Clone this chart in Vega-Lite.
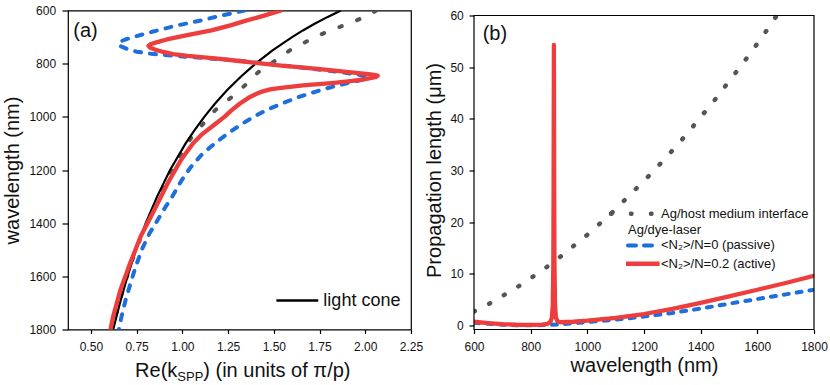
{
  "$schema": "https://vega.github.io/schema/vega-lite/v6.json",
  "padding": {"left": 1, "top": 3.5, "right": 0, "bottom": 0},
  "background": "white",
  "spacing": 0,
  "config": {
    "font": "Liberation Sans",
    "view": {"stroke": "#000", "strokeWidth": 1.2},
    "axis": {"domain": false, "grid": false, "tickColor": "#000", "tickWidth": 1.2, "labelColor": "#111", "labelFontSize": 12, "titleFontSize": 20, "titleFontWeight": "normal", "titleColor": "#111", "labelFlush": false, "labelOverlap": false}
  },
  "datasets": {
    "a_cone": [{"wl":600,"k":1.867},{"wl":625,"k":1.792},{"wl":650,"k":1.723},{"wl":675,"k":1.659},{"wl":700,"k":1.6},{"wl":750,"k":1.493},{"wl":800,"k":1.4},{"wl":850,"k":1.318},{"wl":900,"k":1.244},{"wl":950,"k":1.179},{"wl":1000,"k":1.12},{"wl":1050,"k":1.067},{"wl":1100,"k":1.018},{"wl":1200,"k":0.933},{"wl":1300,"k":0.862},{"wl":1400,"k":0.8},{"wl":1500,"k":0.747},{"wl":1600,"k":0.7},{"wl":1700,"k":0.659},{"wl":1800,"k":0.622}],
    "a_host": [{"wl":600,"k":2.06},{"wl":619,"k":2.015},{"wl":648,"k":1.915},{"wl":673,"k":1.815},{"wl":700,"k":1.724},{"wl":750,"k":1.587},{"wl":794,"k":1.496},{"wl":832,"k":1.415},{"wl":876,"k":1.351},{"wl":926,"k":1.269},{"wl":976,"k":1.178},{"wl":1033,"k":1.105},{"wl":1076,"k":1.051},{"wl":1127,"k":1.005},{"wl":1177,"k":0.96},{"wl":1250,"k":0.905},{"wl":1350,"k":0.84},{"wl":1450,"k":0.775},{"wl":1550,"k":0.72},{"wl":1650,"k":0.675},{"wl":1750,"k":0.635},{"wl":1800,"k":0.62}],
    "a_passive": [{"wl":600,"k":1.34},{"wl":618,"k":1.22},{"wl":636,"k":1.11},{"wl":658,"k":0.96},{"wl":680,"k":0.835},{"wl":700,"k":0.73},{"wl":710,"k":0.685},{"wl":718,"k":0.657},{"wl":726,"k":0.65},{"wl":734,"k":0.662},{"wl":745,"k":0.7},{"wl":755,"k":0.75},{"wl":763,"k":0.83},{"wl":770,"k":0.95},{"wl":778,"k":1.1},{"wl":787,"k":1.28},{"wl":797,"k":1.42},{"wl":807,"k":1.55},{"wl":820,"k":1.72},{"wl":832,"k":1.87},{"wl":842,"k":1.97},{"wl":850,"k":2.005},{"wl":856,"k":2.012},{"wl":862,"k":1.98},{"wl":870,"k":1.92},{"wl":888,"k":1.815},{"wl":905,"k":1.73},{"wl":926,"k":1.633},{"wl":950,"k":1.545},{"wl":976,"k":1.455},{"wl":1000,"k":1.39},{"wl":1025,"k":1.33},{"wl":1051,"k":1.273},{"wl":1080,"k":1.215},{"wl":1110,"k":1.16},{"wl":1139,"k":1.11},{"wl":1190,"k":1.045},{"wl":1240,"k":0.995},{"wl":1300,"k":0.945},{"wl":1340,"k":0.907},{"wl":1400,"k":0.855},{"wl":1439,"k":0.82},{"wl":1500,"k":0.778},{"wl":1566,"k":0.744},{"wl":1630,"k":0.715},{"wl":1691,"k":0.689},{"wl":1750,"k":0.668},{"wl":1800,"k":0.653}],
    "a_active": [{"wl":600,"k":1.54},{"wl":620,"k":1.443},{"wl":640,"k":1.339},{"wl":655,"k":1.268},{"wl":675,"k":1.159},{"wl":693,"k":1.027},{"wl":709,"k":0.915},{"wl":720,"k":0.858},{"wl":727,"k":0.825},{"wl":733,"k":0.815},{"wl":739,"k":0.822},{"wl":747,"k":0.85},{"wl":756,"k":0.895},{"wl":764,"k":0.95},{"wl":771,"k":1.03},{"wl":780,"k":1.18},{"wl":790,"k":1.31},{"wl":800,"k":1.44},{"wl":807,"k":1.54},{"wl":820,"k":1.74},{"wl":832,"k":1.91},{"wl":840,"k":2.03},{"wl":845,"k":2.068},{"wl":850,"k":2.06},{"wl":858,"k":2.0},{"wl":865,"k":1.93},{"wl":872,"k":1.83},{"wl":882,"k":1.66},{"wl":890,"k":1.55},{"wl":897,"k":1.48},{"wl":905,"k":1.435},{"wl":915,"k":1.4},{"wl":926,"k":1.368},{"wl":950,"k":1.315},{"wl":975,"k":1.27},{"wl":1000,"k":1.23},{"wl":1030,"k":1.175},{"wl":1064,"k":1.11},{"wl":1100,"k":1.058},{"wl":1150,"k":1.005},{"wl":1177,"k":0.98},{"wl":1250,"k":0.92},{"wl":1346,"k":0.85},{"wl":1450,"k":0.772},{"wl":1550,"k":0.715},{"wl":1650,"k":0.662},{"wl":1750,"k":0.622},{"wl":1800,"k":0.607}],
    "b_host": [{"wl":600,"L":2.7},{"wl":658,"L":4.3},{"wl":707,"L":5.9},{"wl":758,"L":7.6},{"wl":807,"L":9.4},{"wl":857,"L":11.3},{"wl":907,"L":13.4},{"wl":954,"L":15.5},{"wl":999,"L":17.5},{"wl":1046,"L":19.8},{"wl":1093,"L":22.1},{"wl":1140,"L":24.7},{"wl":1184,"L":27.1},{"wl":1231,"L":29.7},{"wl":1274,"L":32.3},{"wl":1319,"L":35.0},{"wl":1364,"L":37.9},{"wl":1407,"L":40.8},{"wl":1452,"L":43.8},{"wl":1495,"L":46.9},{"wl":1539,"L":50.0},{"wl":1581,"L":53.1},{"wl":1623,"L":56.3},{"wl":1662,"L":59.5},{"wl":1670,"L":60.0}],
    "b_passive": [{"wl":600,"L":0.5},{"wl":650,"L":0.3},{"wl":700,"L":0.12},{"wl":750,"L":0.03},{"wl":800,"L":0.02},{"wl":850,"L":0.05},{"wl":900,"L":0.2},{"wl":950,"L":0.4},{"wl":1000,"L":0.65},{"wl":1100,"L":1.1},{"wl":1200,"L":1.7},{"wl":1300,"L":2.4},{"wl":1400,"L":3.25},{"wl":1500,"L":4.2},{"wl":1600,"L":5.1},{"wl":1700,"L":6.0},{"wl":1800,"L":6.9}],
    "b_active": [{"wl":600,"L":0.7},{"wl":650,"L":0.45},{"wl":700,"L":0.25},{"wl":750,"L":0.12},{"wl":800,"L":0.1},{"wl":840,"L":0.15},{"wl":860,"L":0.3},{"wl":870,"L":0.7},{"wl":875,"L":1.5},{"wl":878,"L":4},{"wl":880,"L":12},{"wl":881,"L":28},{"wl":882,"L":54.3},{"wl":883,"L":28},{"wl":884,"L":12},{"wl":886,"L":4},{"wl":889,"L":1.5},{"wl":895,"L":0.8},{"wl":905,"L":0.6},{"wl":950,"L":0.7},{"wl":1000,"L":0.9},{"wl":1100,"L":1.45},{"wl":1200,"L":2.2},{"wl":1300,"L":3.2},{"wl":1400,"L":4.35},{"wl":1500,"L":5.6},{"wl":1600,"L":6.9},{"wl":1700,"L":8.2},{"wl":1800,"L":9.6}],
    "one": [{}]
  },
  "hconcat": [
    {
      "width": 343,
      "height": 319,
      "layer": [
        {
          "data": {"name": "a_host"},
          "mark": {"type": "line", "color": "#555555", "strokeWidth": 4, "strokeDash": [2.5, 16.5], "strokeCap": "round", "clip": true},
          "encoding": {
            "x": {"field": "k", "type": "quantitative", "scale": {"domain": [0.375, 2.25], "nice": false, "zero": false},
              "axis": {"title": null, "values": [0.5,0.75,1,1.25,1.5,1.75,2,2.25], "format": ".2f", "tickSize": 4, "labelPadding": 7.5}},
            "y": {"field": "wl", "type": "quantitative", "scale": {"domain": [600, 1800], "reverse": true, "nice": false, "zero": false},
              "axis": {"title": "wavelength (nm)", "values": [600,700,800,900,1000,1100,1200,1300,1400,1500,1600,1700,1800],
                "format": "d",
                "labelExpr": "datum.value % 200 == 0 ? datum.label : ''",
                "tickSize": {"condition": {"test": "datum.value % 200 != 0", "value": 4}, "value": 6},
                "labelPadding": 6.4, "titlePadding": 6.5}},
            "order": {"field": "wl"}
          }
        },
        {
          "data": {"name": "a_cone"},
          "mark": {"type": "line", "color": "#000000", "strokeWidth": 2.2, "clip": true},
          "encoding": {"x": {"field": "k", "type": "quantitative"}, "y": {"field": "wl", "type": "quantitative"}, "order": {"field": "wl"}}
        },
        {
          "data": {"name": "a_passive"},
          "mark": {"type": "line", "color": "#1e6fdc", "strokeWidth": 4, "strokeDash": [6, 9], "strokeCap": "round", "strokeJoin": "round", "clip": true},
          "encoding": {"x": {"field": "k", "type": "quantitative"}, "y": {"field": "wl", "type": "quantitative"}, "order": {"field": "wl"}}
        },
        {
          "data": {"name": "a_active"},
          "mark": {"type": "line", "color": "#ee3d3d", "strokeWidth": 4.3, "strokeJoin": "round", "strokeCap": "round", "clip": true},
          "encoding": {"x": {"field": "k", "type": "quantitative"}, "y": {"field": "wl", "type": "quantitative"}, "order": {"field": "wl"}}
        },
        {
          "data": {"name": "one"},
          "mark": {"type": "rule", "color": "#000000", "strokeWidth": 2.5},
          "encoding": {"x": {"datum": 1.514, "type": "quantitative"}, "x2": {"datum": 1.743}, "y": {"datum": 1691, "type": "quantitative"}}
        },
        {
          "data": {"name": "one"},
          "mark": {"type": "text", "align": "left", "baseline": "middle", "fontSize": 18, "color": "#111"},
          "encoding": {"x": {"datum": 1.771, "type": "quantitative"}, "y": {"datum": 1691, "type": "quantitative"}, "text": {"value": "light cone"}}
        },
        {
          "data": {"name": "one"},
          "mark": {"type": "text", "align": "left", "baseline": "alphabetic", "fontSize": 20, "color": "#111"},
          "encoding": {"x": {"datum": 0.404, "type": "quantitative"}, "y": {"datum": 698, "type": "quantitative"}, "text": {"value": "(a)"}}
        },
        {
          "data": {"name": "one"},
          "mark": {"type": "text", "align": "right", "baseline": "alphabetic", "fontSize": 20, "color": "#111"},
          "encoding": {"x": {"datum": 0.9725, "type": "quantitative"}, "y": {"datum": 1977, "type": "quantitative"}, "text": {"value": "Re(k"}}
        },
        {
          "data": {"name": "one"},
          "mark": {"type": "text", "align": "left", "baseline": "alphabetic", "fontSize": 13, "color": "#111"},
          "encoding": {"x": {"datum": 0.9725, "type": "quantitative"}, "y": {"datum": 1995, "type": "quantitative"}, "text": {"value": "SPP"}}
        },
        {
          "data": {"name": "one"},
          "mark": {"type": "text", "align": "left", "baseline": "alphabetic", "fontSize": 20, "color": "#111"},
          "encoding": {"x": {"datum": 1.1146, "type": "quantitative"}, "y": {"datum": 1977, "type": "quantitative"}, "text": {"value": ") (in units of π/p)"}}
        }
      ]
    },
    {
      "width": 340,
      "height": 319,
      "view": {"stroke": null},
      "layer": [
        {
          "data": {"name": "b_host"},
          "mark": {"type": "line", "color": "#555555", "strokeWidth": 4.5, "strokeDash": [1, 16], "strokeCap": "round", "clip": true},
          "encoding": {
            "x": {"field": "wl", "type": "quantitative", "scale": {"domain": [600, 1800], "nice": false, "zero": false},
              "axis": {"title": "wavelength (nm)", "values": [600,700,800,900,1000,1100,1200,1300,1400,1500,1600,1700,1800],
                "format": "d",
                "labelExpr": "datum.value % 200 == 0 ? datum.label : ''",
                "tickSize": {"condition": {"test": "datum.value % 200 != 0", "value": 3}, "value": 4},
                "labelPadding": 7.5, "titlePadding": 3}},
            "y": {"field": "L", "type": "quantitative", "scale": {"domain": [-0.8, 60.967], "nice": false, "zero": false},
              "axis": {"title": "Propagation length (μm)", "values": [0,5,10,15,20,25,30,35,40,45,50,55,60],
                "format": "d",
                "labelExpr": "datum.value % 10 == 0 ? datum.label : ''",
                "tickSize": {"condition": {"test": "datum.value % 10 != 0", "value": 4}, "value": 5},
                "labelPadding": 5.7, "titlePadding": 5}},
            "order": {"field": "wl"}
          }
        },
        {
          "data": {"name": "b_passive"},
          "mark": {"type": "line", "color": "#1e6fdc", "strokeWidth": 4, "strokeDash": [5, 8], "strokeCap": "round", "strokeJoin": "round", "clip": true},
          "encoding": {"x": {"field": "wl", "type": "quantitative"}, "y": {"field": "L", "type": "quantitative"}, "order": {"field": "wl"}}
        },
        {
          "data": {"name": "b_active"},
          "mark": {"type": "line", "color": "#ee3d3d", "strokeWidth": 4.3, "strokeJoin": "round", "strokeCap": "round", "clip": true},
          "encoding": {"x": {"field": "wl", "type": "quantitative"}, "y": {"field": "L", "type": "quantitative"}, "order": {"field": "wl"}}
        },
        {
          "data": {"name": "one"},
          "mark": {"type": "rect", "fill": null, "fillOpacity": 0, "stroke": "#000", "strokeWidth": 1.2},
          "encoding": {"x": {"datum": 600, "type": "quantitative"}, "x2": {"datum": 1800}, "y": {"datum": -0.8, "type": "quantitative"}, "y2": {"datum": 60}}
        },
        {
          "data": {"name": "one"},
          "mark": {"type": "rule", "color": "#555555", "strokeWidth": 4.5, "strokeDash": [0.5, 19.5], "strokeCap": "round"},
          "encoding": {"x": {"datum": 1083.5, "type": "quantitative"}, "x2": {"datum": 1228}, "y": {"datum": 21.6, "type": "quantitative"}}
        },
        {
          "data": {"name": "one"},
          "mark": {"type": "rule", "color": "#1e6fdc", "strokeWidth": 4, "strokeDash": [8, 8], "strokeCap": "round"},
          "encoding": {"x": {"datum": 1143.5, "type": "quantitative"}, "x2": {"datum": 1253}, "y": {"datum": 15.47, "type": "quantitative"}}
        },
        {
          "data": {"name": "one"},
          "mark": {"type": "rule", "color": "#ee3d3d", "strokeWidth": 4.5},
          "encoding": {"x": {"datum": 1136.5, "type": "quantitative"}, "x2": {"datum": 1255}, "y": {"datum": 11.92, "type": "quantitative"}}
        },
        {
          "data": {"name": "one"},
          "mark": {"type": "text", "align": "left", "baseline": "middle", "fontSize": 13, "color": "#111"},
          "encoding": {"x": {"datum": 1260, "type": "quantitative"}, "y": {"datum": 21.6, "type": "quantitative"}, "text": {"value": "Ag/host medium interface"}}
        },
        {
          "data": {"name": "one"},
          "mark": {"type": "text", "align": "left", "baseline": "middle", "fontSize": 13, "color": "#111"},
          "encoding": {"x": {"datum": 1143.5, "type": "quantitative"}, "y": {"datum": 18.5, "type": "quantitative"}, "text": {"value": "Ag/dye-laser"}}
        },
        {
          "data": {"name": "one"},
          "mark": {"type": "text", "align": "left", "baseline": "middle", "fontSize": 13, "color": "#111"},
          "encoding": {"x": {"datum": 1260, "type": "quantitative"}, "y": {"datum": 15.47, "type": "quantitative"}, "text": {"value": "<N₂>/N=0 (passive)"}}
        },
        {
          "data": {"name": "one"},
          "mark": {"type": "text", "align": "left", "baseline": "middle", "fontSize": 13, "color": "#111"},
          "encoding": {"x": {"datum": 1260, "type": "quantitative"}, "y": {"datum": 11.92, "type": "quantitative"}, "text": {"value": "<N₂>/N=0.2 (active)"}}
        },
        {
          "data": {"name": "one"},
          "mark": {"type": "text", "align": "left", "baseline": "alphabetic", "fontSize": 20, "color": "#111"},
          "encoding": {"x": {"datum": 630.7, "type": "quantitative"}, "y": {"datum": 55.16, "type": "quantitative"}, "text": {"value": "(b)"}}
        }
      ]
    }
  ]
}
